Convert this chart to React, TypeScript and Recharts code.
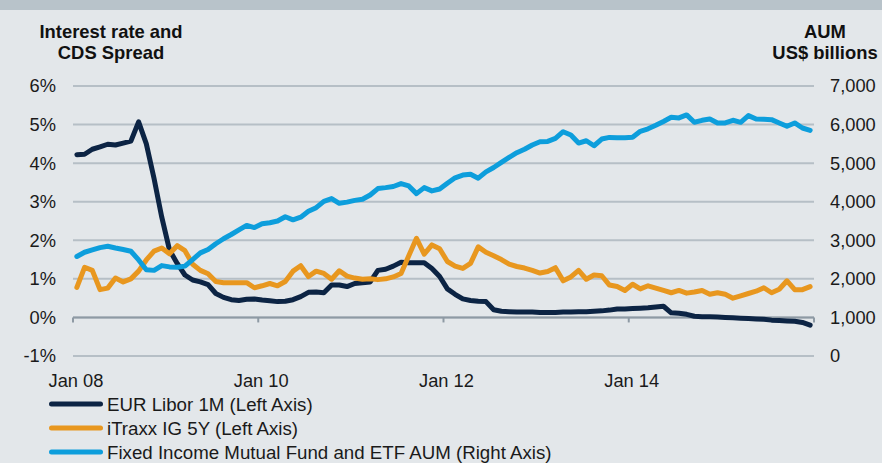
import { CartesianGrid, Legend, Line, LineChart, ReferenceLine, XAxis, YAxis } from "recharts";

// monthly values, Jan 2008 .. Dec 2015
const libor = [
  4.22, 4.23, 4.36, 4.42, 4.49, 4.47, 4.52, 4.57, 5.07, 4.5,
  3.6, 2.6, 1.75, 1.4, 1.1, 0.97, 0.92, 0.85, 0.62, 0.52,
  0.46, 0.44, 0.47, 0.48, 0.45, 0.43, 0.41, 0.42, 0.46, 0.54,
  0.65, 0.66, 0.64, 0.84, 0.84, 0.8, 0.88, 0.9, 0.92, 1.22,
  1.25, 1.33, 1.43, 1.42, 1.42, 1.42, 1.27, 1.06, 0.74, 0.6,
  0.48, 0.44, 0.42, 0.41, 0.2, 0.16, 0.15, 0.14, 0.14, 0.14,
  0.13, 0.13, 0.13, 0.14, 0.14, 0.15, 0.15, 0.16, 0.17, 0.19,
  0.22, 0.22, 0.23, 0.24, 0.25, 0.27, 0.29, 0.12, 0.11, 0.08,
  0.03, 0.02, 0.02, 0.01, 0.0, -0.01, -0.02, -0.03, -0.04, -0.05,
  -0.07, -0.08, -0.09, -0.1, -0.13, -0.2,
];

const itraxx = [
  0.78, 1.3, 1.22, 0.72, 0.76, 1.02, 0.92, 1.0, 1.2, 1.49,
  1.72, 1.8, 1.65, 1.86, 1.73, 1.38, 1.22, 1.13, 0.93, 0.9,
  0.9, 0.9, 0.9, 0.77, 0.82, 0.88, 0.82, 0.93, 1.2, 1.34,
  1.06, 1.2, 1.14, 0.99, 1.21, 1.07, 1.02, 0.99, 1.0, 0.98,
  1.0, 1.05, 1.14, 1.6, 2.05, 1.64, 1.88, 1.78, 1.45, 1.33,
  1.27, 1.4, 1.83, 1.69, 1.6, 1.5, 1.38, 1.32, 1.28, 1.22,
  1.15, 1.19, 1.29, 0.95, 1.05, 1.22, 0.99, 1.1, 1.08, 0.84,
  0.8, 0.7, 0.86, 0.74, 0.82, 0.76, 0.7, 0.64, 0.7, 0.63,
  0.66, 0.7, 0.6, 0.64, 0.6, 0.5, 0.56, 0.62, 0.68, 0.77,
  0.64, 0.73, 0.95, 0.72, 0.72, 0.8,
];

const aum = [
  2580, 2690, 2750, 2810, 2845, 2800, 2760, 2716, 2490, 2235,
  2220, 2343, 2310, 2300, 2330, 2500, 2673, 2760, 2910, 3040,
  3150, 3270, 3385, 3330, 3430, 3455, 3500, 3611, 3530, 3600,
  3750, 3845, 4010, 4080, 3958, 3990, 4035, 4063, 4175, 4340,
  4365, 4395, 4470, 4410, 4210, 4366, 4280, 4330, 4480, 4620,
  4690, 4714, 4610, 4774, 4887, 5020, 5148, 5270, 5360, 5470,
  5555, 5564, 5642, 5816, 5729, 5521, 5581, 5451, 5625, 5668,
  5660, 5660, 5670, 5825, 5890, 5980, 6080, 6189, 6172, 6250,
  6059, 6110, 6146, 6042, 6042, 6111, 6059, 6233, 6146, 6135,
  6128, 6042, 5955, 6042, 5911, 5850,
];

const xTicks = [0, 24, 48, 72];
const xTickLabels = ["Jan 08", "Jan 10", "Jan 12", "Jan 14"];
const xTickMarks = [0, 24, 48, 72, 96];
const leftTicks = [-1, 0, 1, 2, 3, 4, 5, 6];
const rightTicks = [0, 1000, 2000, 3000, 4000, 5000, 6000, 7000];

const series = [
  { key: "libor", name: "EUR Libor 1M (Left Axis)", color: "#0c2444", axis: "left" },
  { key: "itraxx", name: "iTraxx IG 5Y (Left Axis)", color: "#e8971f", axis: "left" },
  { key: "aum", name: "Fixed Income Mutual Fund and ETF AUM (Right Axis)", color: "#0d9edc", axis: "right" },
];

// points sit in the middle of each month
const data = libor.map((v, k) => ({ m: k + 0.5, libor: v, itraxx: itraxx[k], aum: aum[k] }));

const font = "'Liberation Sans', Arial, sans-serif";
const bg = "#e3e7ea";
const gridColor = "#b6bfc6";
const axisColor = "#8e9aa4";
const tickStyle = { fontSize: 18.3, fill: "#1a1a1a", fontFamily: font };

function LegendBox() {
  return (
    <svg width={640} height={72} style={{ display: "block" }}>
      {series.map((s, i) => (
        <g key={s.key}>
          <line x1={51.5} x2={100.5} y1={12 + 24 * i} y2={12 + 24 * i} stroke={s.color} strokeWidth={5} strokeLinecap="round" />
          <text x={107} y={18.5 + 24 * i} fontSize={18.7} fontFamily={font} fill="#1a1a1a">
            {s.name}
          </text>
        </g>
      ))}
    </svg>
  );
}

const titleStyle = {
  position: "absolute" as const,
  top: 21,
  width: 200,
  textAlign: "center" as const,
  fontFamily: font,
  fontWeight: 700,
  fontSize: 18.4,
  lineHeight: "21px",
  color: "#111",
};

export default function App() {
  return (
    <div style={{ position: "absolute", left: 0, top: 0, width: 882, height: 463, background: bg, overflow: "hidden" }}>
      <div style={{ position: "absolute", left: 0, top: 0, width: 882, height: 10, background: "#b8c3ca" }} />
      <div style={{ ...titleStyle, left: 11 }}>
        Interest rate and
        <br />
        CDS Spread
      </div>
      <div style={{ ...titleStyle, left: 725 }}>
        AUM
        <br />
        US$ billions
      </div>
      <LineChart width={882} height={463} data={data} margin={{ top: 86, right: 0, bottom: 0, left: 0 }}>
        <CartesianGrid vertical={false} yAxisId="left" stroke={gridColor} strokeWidth={2} />
        <XAxis
          dataKey="m"
          type="number"
          domain={[0, 96]}
          ticks={xTicks}
          interval={0}
          tickFormatter={(v) => xTickLabels[xTicks.indexOf(v)] ?? ""}
          axisLine={false}
          tickLine={false}
          tickSize={0}
          tickMargin={18}
          height={107}
          tick={{ ...tickStyle, dx: 3 }}
        />
        <YAxis
          yAxisId="left"
          domain={[-1, 6]}
          ticks={leftTicks}
          interval={0}
          tickFormatter={(v) => `${v}%`}
          axisLine={false}
          tickLine={false}
          tickSize={0}
          tickMargin={17}
          width={73}
          tick={tickStyle}
        />
        <YAxis
          yAxisId="right"
          orientation="right"
          domain={[0, 7000]}
          ticks={rightTicks}
          interval={0}
          tickFormatter={(v) => v.toLocaleString("en-US")}
          axisLine={false}
          tickLine={false}
          tickSize={0}
          tickMargin={16}
          width={68}
          tick={tickStyle}
        />
        <ReferenceLine yAxisId="left" y={0} stroke={axisColor} strokeWidth={2} />
        {xTickMarks.map((t) => (
          <ReferenceLine
            key={t}
            yAxisId="left"
            segment={[{ x: t, y: 0 }, { x: t, y: -0.13 }]}
            stroke={axisColor}
            strokeWidth={2}
          />
        ))}
        {series.map((s) => (
          <Line
            key={s.key}
            yAxisId={s.axis}
            dataKey={s.key}
            name={s.name}
            type="linear"
            stroke={s.color}
            strokeWidth={5}
            strokeLinejoin="round"
            strokeLinecap="round"
            dot={false}
            activeDot={false}
            isAnimationActive={false}
          />
        ))}
        <Legend
          layout="horizontal"
          verticalAlign="middle"
          align="center"
          wrapperStyle={{ left: 0, top: 392, width: 640, height: 72 }}
          content={() => <LegendBox />}
        />
      </LineChart>
    </div>
  );
}
